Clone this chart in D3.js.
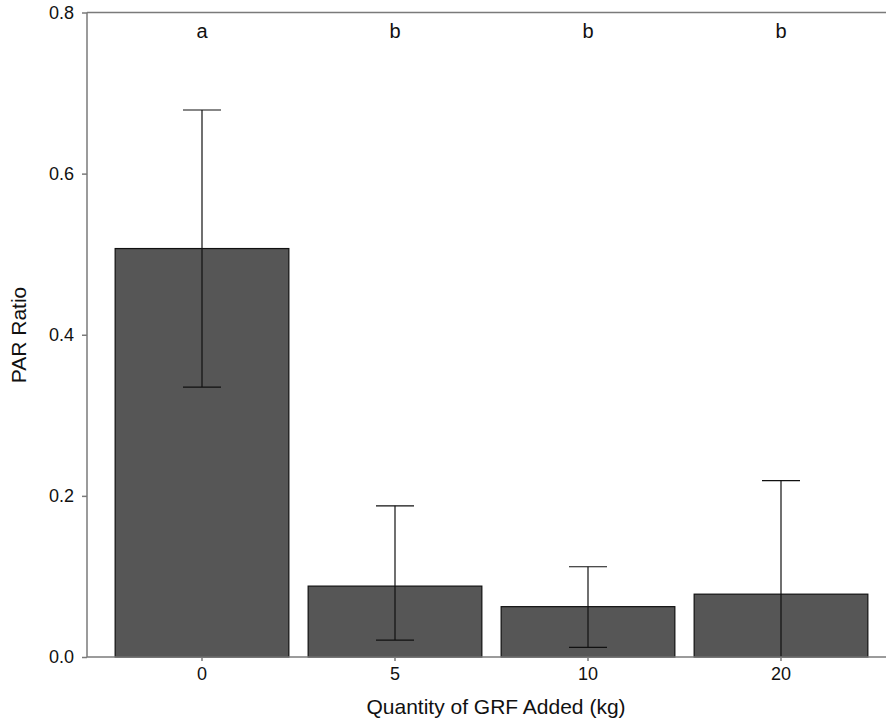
<!DOCTYPE html>
<html>
<head>
<meta charset="utf-8">
<script src="https://cdn.jsdelivr.net/npm/d3@7"></script>
<style>
body { margin:0; background:white; }
text { font-family: "Liberation Sans", Arial, sans-serif; fill:#111; }
</style>
</head>
<body>
<svg id="chart"></svg>
<script>
// data
var categories = ["0","5","10","20"];
var means  = [0.507, 0.088, 0.0625, 0.078];
var uppers = [0.679, 0.1876, 0.112, 0.219];
var lowers = [0.335, 0.021, 0.012, 0.0];
var letters = ["a","b","b","b"];
var yTicks = [0.0, 0.2, 0.4, 0.6, 0.8];

var screen = {width:886, height:725}
var plot = {left:87, right:886, top:12.5, bottom:657}

var svg = d3.select("#chart")
    .attr("width", screen.width)
    .attr("height", screen.height)

var xScale = d3.scaleBand()
    .domain(categories)
    .range([105.5, 877.5])
    .paddingInner(0.1)
    .paddingOuter(0.05)

var yScale = d3.scaleLinear()
    .domain([0, 0.8])
    .range([plot.bottom, plot.top])

var rows = categories.map(function(c, i) {
    return {cat:c, mean:means[i], hi:uppers[i], lo:lowers[i], letter:letters[i]}
})

// bars
svg.append("g")
    .selectAll("rect")
    .data(rows)
    .enter()
    .append("rect")
    .attr("x", function(d) { return xScale(d.cat) })
    .attr("y", function(d) { return yScale(d.mean) })
    .attr("width", xScale.bandwidth())
    .attr("height", function(d) { return yScale(0) - yScale(d.mean) })
    .attr("fill", "#565656")
    .attr("stroke", "#111")
    .attr("stroke-width", 1.2)

// error bars
var errs = svg.append("g")
    .attr("stroke", "#111")
    .attr("stroke-width", 1.2)

var cx = function(d) { return xScale(d.cat) + xScale.bandwidth()/2 }
var capW = 19

errs.selectAll(".stem")
    .data(rows)
    .enter()
    .append("line")
    .attr("x1", cx).attr("x2", cx)
    .attr("y1", function(d) { return yScale(d.hi) })
    .attr("y2", function(d) { return yScale(d.lo) })

errs.selectAll(".capHi")
    .data(rows)
    .enter()
    .append("line")
    .attr("x1", function(d) { return cx(d) - capW })
    .attr("x2", function(d) { return cx(d) + capW })
    .attr("y1", function(d) { return yScale(d.hi) })
    .attr("y2", function(d) { return yScale(d.hi) })

errs.selectAll(".capLo")
    .data(rows.filter(function(d) { return d.lo > 0 }))
    .enter()
    .append("line")
    .attr("x1", function(d) { return cx(d) - capW })
    .attr("x2", function(d) { return cx(d) + capW })
    .attr("y1", function(d) { return yScale(d.lo) })
    .attr("y2", function(d) { return yScale(d.lo) })

// frame lines (left, top, bottom)
var frame = svg.append("g")
    .attr("stroke", "#7a7a7a")
    .attr("stroke-width", 1.5)
frame.append("line")
    .attr("x1", plot.left).attr("x2", plot.left)
    .attr("y1", plot.top).attr("y2", plot.bottom)
frame.append("line")
    .attr("x1", plot.left).attr("x2", plot.right)
    .attr("y1", plot.top).attr("y2", plot.top)
frame.append("line")
    .attr("x1", plot.left).attr("x2", plot.right)
    .attr("y1", plot.bottom).attr("y2", plot.bottom)

// y axis
var yAxis = d3.axisLeft(yScale)
    .tickValues(yTicks)
    .tickFormat(d3.format(".1f"))
    .tickSize(5)
    .tickPadding(8)
var yG = svg.append("g")
    .attr("transform", "translate(" + plot.left + ",0)")
    .call(yAxis)
yG.select(".domain").remove()
yG.selectAll("line").attr("stroke", "#7a7a7a").attr("stroke-width", 1.5)
yG.selectAll("text").attr("font-size", "18px").attr("fill", "#111")
    .attr("font-family", "Liberation Sans, Arial, sans-serif")

// x axis
var xAxis = d3.axisBottom(xScale)
    .tickSize(4)
    .tickPadding(6)
var xG = svg.append("g")
    .attr("transform", "translate(0," + plot.bottom + ")")
    .call(xAxis)
xG.select(".domain").remove()
xG.selectAll("line").attr("stroke", "#7a7a7a").attr("stroke-width", 1.5)
xG.selectAll("text").attr("font-size", "18px").attr("fill", "#111")
    .attr("font-family", "Liberation Sans, Arial, sans-serif")

// significance letters
svg.append("g")
    .selectAll("text")
    .data(rows)
    .enter()
    .append("text")
    .text(function(d) { return d.letter })
    .attr("x", cx)
    .attr("y", 38)
    .attr("text-anchor", "middle")
    .attr("font-size", "20px")

// axis titles
svg.append("text")
    .text("Quantity of GRF Added (kg)")
    .attr("x", 496)
    .attr("y", 714)
    .attr("text-anchor", "middle")
    .attr("font-size", "21px")

svg.append("g")
    .attr("transform", "translate(26,335)")
    .append("text")
    .text("PAR Ratio")
    .attr("text-anchor", "middle")
    .attr("transform", "rotate(-90)")
    .attr("font-size", "21px")
</script>
</body>
</html>
